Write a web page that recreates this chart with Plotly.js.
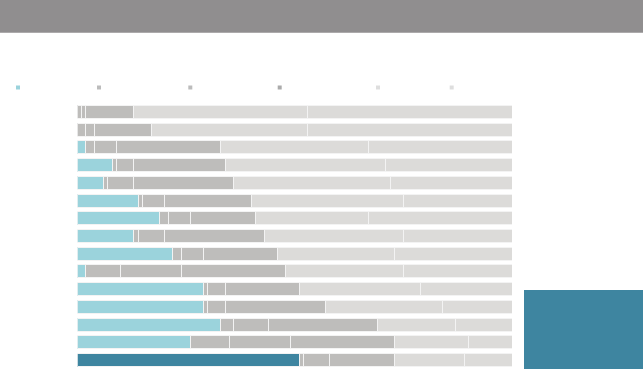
<!DOCTYPE html>
<html>
<head>
<meta charset="utf-8">
<script src="https://cdn.plot.ly/plotly-3.0.1.min.js"></script>
<style>html,body{margin:0;padding:0;background:#fff;}#chart{width:643px;height:369px;}</style>
</head>
<body>
<div id="chart"></div>
<script>
// Row categories (top to bottom); no labels are shown in the reference
const categories = ["1","2","3","4","5","6","7","8","9","10","11","12","13","14","15"];
// Series values (percent shares per row)
const seriesA = [0, 0, 2, 8, 6, 14, 19, 13, 22, 2, 29, 29, 33, 26, 51];
const seriesB = [1, 2, 2, 1, 1, 1, 2, 1, 2, 8, 1, 1, 3, 9, 1];
const seriesC = [1, 2, 5, 4, 6, 5, 5, 6, 5, 14, 4, 4, 8, 14, 6];
const seriesD = [11, 13, 24, 21, 23, 20, 15, 23, 17, 24, 17, 23, 25, 24, 15];
const seriesE = [40, 36, 34, 37, 36, 35, 26, 32, 27, 27, 28, 27, 18, 17, 16];
const seriesF = [47, 47, 33, 29, 28, 25, 33, 25, 27, 25, 21, 16, 13, 10, 11];

const series = [seriesA, seriesB, seriesC, seriesD, seriesE, seriesF];
const barColors = ["#9bd3dc", "#bebdbb", "#bebdbb", "#bebdbb", "#dcdbd9", "#dcdbd9"];
const highlight = "#3e85a0";
const legendColors = ["#9bd3dc", "#bcbcbc", "#bcbcbc", "#ababab", "#dedede", "#dedede"];
const legendX = [18, 99, 190.3, 279.7, 378, 451.7];

const W = 643, H = 369;
const traces = series.map((vals, i) => ({
  type: "bar",
  orientation: "h",
  y: categories,
  x: vals,
  marker: {
    color: i === 0 ? categories.map((c, k) => k === categories.length - 1 ? highlight : barColors[0]) : barColors[i],
    line: {color: "#f3f3f3", width: 1}
  },
  hoverinfo: "x",
  showlegend: false
}));

const shapes = [
  {type: "rect", xref: "paper", yref: "paper", x0: 0, x1: 1, y0: 1 - 32.7 / H, y1: 1,
   fillcolor: "#908e8f", line: {width: 0}, layer: "below"},
  {type: "rect", xref: "paper", yref: "paper", x0: 524 / W, x1: 1, y0: 0, y1: (H - 290) / H,
   fillcolor: "#3e85a0", line: {width: 0}}
];
legendX.forEach((cx, i) => {
  shapes.push({type: "rect", xref: "paper", yref: "paper",
    x0: (cx - 2) / W, x1: (cx + 2) / W, y0: 1 - 89.5 / H, y1: 1 - 85.5 / H,
    fillcolor: legendColors[i], line: {width: 0}});
});

const layout = {
  width: W, height: H,
  margin: {l: 0, r: 0, t: 0, b: 0},
  paper_bgcolor: "#ffffff",
  plot_bgcolor: "rgba(0,0,0,0)",
  barmode: "stack",
  bargap: 0.27,
  showlegend: false,
  xaxis: {domain: [77.3 / W, 512 / W], range: [0, 100], showgrid: false, zeroline: false,
          showticklabels: false, ticks: "", showline: false, fixedrange: true},
  yaxis: {domain: [0, (H - 103) / H], type: "category", autorange: "reversed",
          showgrid: false, zeroline: false, showticklabels: false, ticks: "", showline: false, fixedrange: true},
  shapes: shapes
};

Plotly.newPlot("chart", traces, layout, {displayModeBar: false, staticPlot: true});
</script>
</body>
</html>
